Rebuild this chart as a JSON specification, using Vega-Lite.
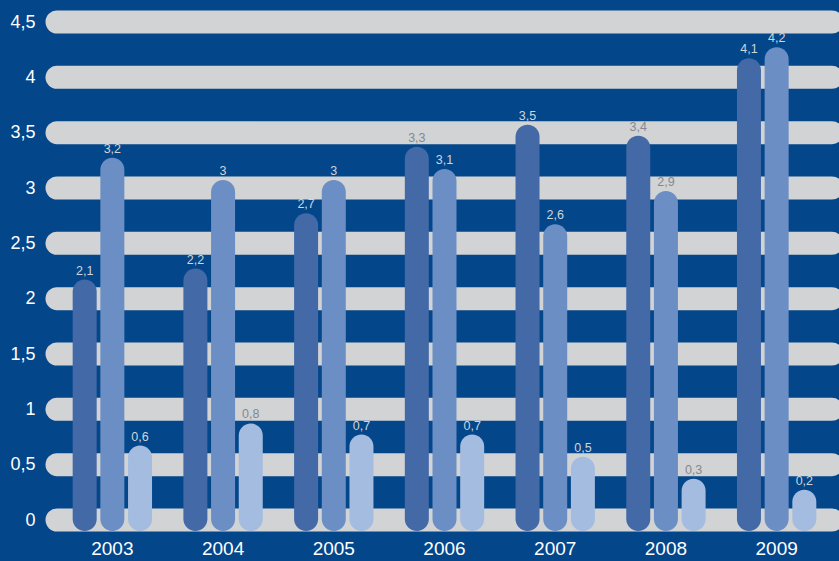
{
  "$schema": "https://vega.github.io/schema/vega-lite/v6.json",
  "width": 775,
  "height": 498,
  "autosize": {"type": "none"},
  "padding": {"left": 57, "top": 22, "right": 7, "bottom": 41},
  "background": "#03468a",
  "config": {
    "view": {"stroke": null},
    "font": "Liberation Sans",
    "locale": {"number": {"decimal": ",", "thousands": ".", "grouping": [3], "currency": ["", " €"]}},
    "axisY": {"domain": false, "ticks": false, "grid": false, "labelColor": "#ffffff", "labelFontSize": 18, "labelPadding": 22, "title": null, "format": "~g"},
    "axisX": {"labelAngle": 0, "domain": false, "ticks": false, "grid": false, "labelColor": "#ffffff", "labelFontSize": 19, "labelPadding": 19, "title": null}
  },
  "datasets": {
    "grid": [
      {"t": 0}, {"t": 0.5}, {"t": 1}, {"t": 1.5}, {"t": 2},
      {"t": 2.5}, {"t": 3}, {"t": 3.5}, {"t": 4}, {"t": 4.5}
    ],
    "bars": [
      {"year": "2003", "s": "a", "v": 2.1}, {"year": "2003", "s": "b", "v": 3.2}, {"year": "2003", "s": "c", "v": 0.6},
      {"year": "2004", "s": "a", "v": 2.2}, {"year": "2004", "s": "b", "v": 3.0}, {"year": "2004", "s": "c", "v": 0.8},
      {"year": "2005", "s": "a", "v": 2.7}, {"year": "2005", "s": "b", "v": 3.0}, {"year": "2005", "s": "c", "v": 0.7},
      {"year": "2006", "s": "a", "v": 3.3}, {"year": "2006", "s": "b", "v": 3.1}, {"year": "2006", "s": "c", "v": 0.7},
      {"year": "2007", "s": "a", "v": 3.5}, {"year": "2007", "s": "b", "v": 2.6}, {"year": "2007", "s": "c", "v": 0.5},
      {"year": "2008", "s": "a", "v": 3.4}, {"year": "2008", "s": "b", "v": 2.9}, {"year": "2008", "s": "c", "v": 0.3},
      {"year": "2009", "s": "a", "v": 4.1}, {"year": "2009", "s": "b", "v": 4.2}, {"year": "2009", "s": "c", "v": 0.2}
    ]
  },
  "layer": [
    {
      "data": {"name": "grid"},
      "mark": {"type": "rule", "strokeWidth": 23, "strokeCap": "round", "color": "#d2d3d5", "clip": false},
      "encoding": {
        "y": {
          "field": "t", "type": "quantitative",
          "scale": {"domain": [0, 4.5], "nice": false, "zero": true},
          "axis": {"values": [0, 0.5, 1, 1.5, 2, 2.5, 3, 3.5, 4, 4.5]}
        }
      }
    },
    {
      "data": {"name": "bars"},
      "mark": {"type": "bar", "width": 24, "cornerRadius": 12, "yOffset": -8, "y2Offset": 11, "clip": false},
      "encoding": {
        "x": {
          "field": "year", "type": "nominal",
          "scale": {"paddingInner": 0.25, "paddingOuter": 0.125}
        },
        "xOffset": {"field": "s", "type": "nominal", "sort": ["a", "b", "c"], "scale": {"paddingInner": 0, "paddingOuter": 0}},
        "y": {"field": "v", "type": "quantitative", "scale": {"domain": [0, 4.5], "nice": false}},
        "y2": {"datum": 0},
        "color": {
          "field": "s", "type": "nominal",
          "scale": {"domain": ["a", "b", "c"], "range": ["#4369a7", "#6b8fc5", "#a3bcdf"]},
          "legend": null
        }
      }
    },
    {
      "data": {"name": "bars"},
      "mark": {"type": "text", "baseline": "middle", "align": "center", "dy": -17, "fontSize": 12.5},
      "encoding": {
        "x": {"field": "year", "type": "nominal"},
        "xOffset": {"field": "s", "type": "nominal", "sort": ["a", "b", "c"]},
        "y": {"field": "v", "type": "quantitative"},
        "text": {"field": "v", "type": "quantitative", "format": "~g"},
        "color": {
          "condition": {
            "test": "abs((datum.v + 0.1355) * 2 - round((datum.v + 0.1355) * 2)) < 0.2",
            "value": "#85898f"
          },
          "value": "#d0d4dc"
        }
      }
    }
  ]
}
